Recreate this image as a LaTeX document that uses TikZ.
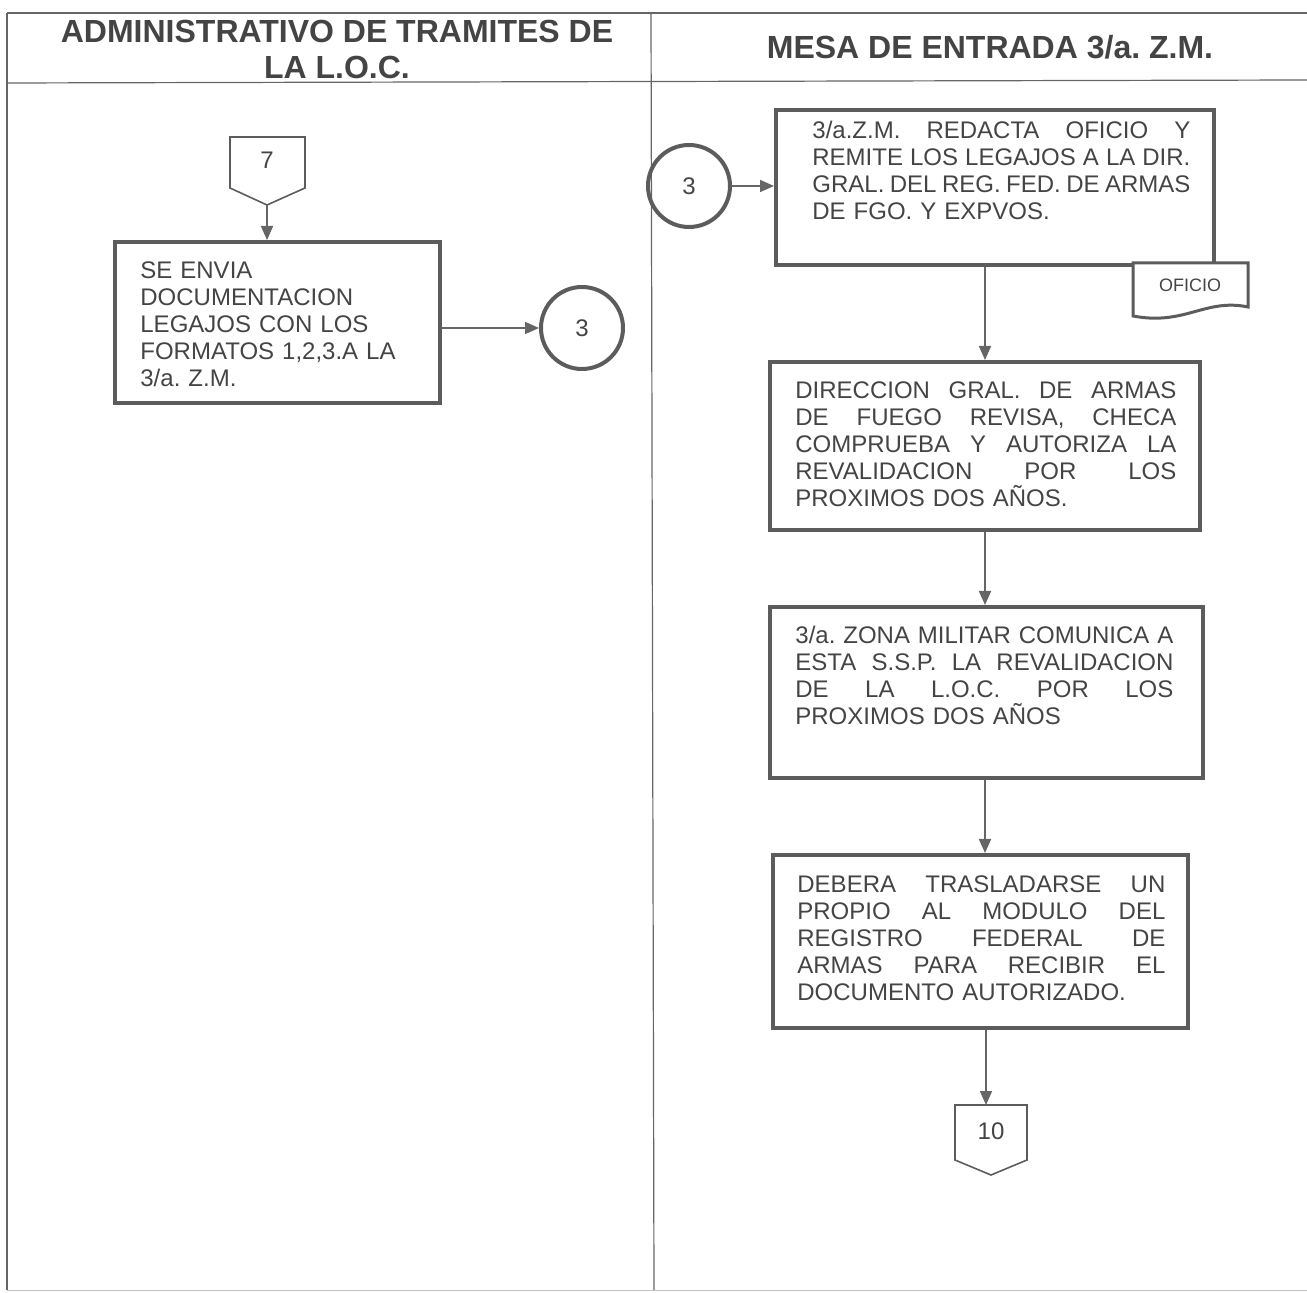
\documentclass[tikz,border=0pt]{standalone}
\usepackage{fontspec}
\setmainfont{Liberation Sans}
\usetikzlibrary{arrows.meta}
\definecolor{ln}{HTML}{666666}
\definecolor{bx}{HTML}{5C5C5C}
\definecolor{tx}{HTML}{444444}
\newcommand{\jline}[2]{\noindent\hbox to #1{#2}\par}
\frenchspacing
\begin{document}
\begin{tikzpicture}[x=0.5pt,y=-0.5pt,
  procbox/.style={draw=bx, line width=2pt, inner sep=0pt},
  conn/.style={draw=ln, line width=0.8pt, -{Triangle[length=7pt,width=6pt]}},
  circ/.style={draw=bx, line width=2pt, circle, minimum size=41pt, inner sep=0pt, text=tx, font=\fontsize{12}{14}\selectfont},
  offpage/.style={draw=bx, line width=0.8pt, fill=white},
  body/.style={anchor=north west, inner sep=0pt, align=left, text=tx, font=\fontsize{12}{13.5}\selectfont},
  head/.style={text=tx, font=\bfseries\fontsize{16}{18}\selectfont, align=center, inner sep=0pt},
  small/.style={text=tx, font=\fontsize{12}{14}\selectfont, inner sep=0pt},
  gridline/.style={draw=ln, line width=0.6pt}]
\useasboundingbox (0,0) rectangle (1307,1293);

% table grid
\draw[gridline] (7,13) -- (1307,13);
\draw[gridline] (7,83) -- (1307,80);
\draw[gridline] (7,13) -- (7,1290);
\draw[gridline] (651,13) -- (654,1290);
\draw[draw=ln!40, line width=0.5pt] (7,1290) -- (1307,1290);

% headers
\node[head] (h1) at (337,49) {ADMINISTRATIVO DE TRAMITES DE\\LA L.O.C.};
\node[head] (h2) at (990,47) {MESA DE ENTRADA 3/a. Z.M.};

% left lane
\draw[offpage] (230,137) -- (305,137) -- (305,188) -- (267,205) -- (230,188) -- cycle;
\coordinate (p7tip) at (267,205);
\node[small] (p7) at (267,160) {7};

\node[procbox, minimum width=162.5pt, minimum height=80.5pt] (b1) at (277.5,322.5) {};
\node[body, text width=140pt] (t1) at (140,261) {SE ENVIA\\DOCUMENTACION\\LEGAJOS CON LOS\\FORMATOS 1,2,3.A LA\\3/a. Z.M.};

\node[circ] (c1) at (582,328) {3};

\draw[conn] (p7tip) -- (p7tip |- b1.north);
\draw[conn] (b1.east |- c1.west) -- (c1.west);

% right lane
\node[circ] (c2) at (689,186) {3};

\node[procbox, minimum width=219pt, minimum height=77.5pt] (b2) at (995,187.5) {};
\node[body, text width=189pt] (t2) at (812,121) {%
\jline{189pt}{3/a.Z.M.\hfill REDACTA\hfill OFICIO\hfill Y}%
\jline{189pt}{REMITE\hfill LOS\hfill LEGAJOS\hfill A\hfill LA\hfill DIR.}%
\jline{189pt}{GRAL.\hfill DEL\hfill REG.\hfill FED.\hfill DE\hfill ARMAS}%
DE FGO. Y EXPVOS.};

\draw[draw=bx, line width=1.5pt, fill=white] (1133,263) -- (1248,263) -- (1248,307)
  .. controls (1205,298) and (1185,326) .. (1133,316) -- cycle;
\node[small, font=\fontsize{9}{11}\selectfont] (doc) at (1190,285) {OFICIO};

\node[procbox, minimum width=215pt, minimum height=84pt] (b3) at (985,446) {};
\node[body, text width=190.5pt] (t3) at (795,381) {%
\jline{190.5pt}{DIRECCION\hfill GRAL.\hfill DE\hfill ARMAS}%
\jline{190.5pt}{DE\hfill FUEGO\hfill REVISA,\hfill CHECA}%
\jline{190.5pt}{COMPRUEBA\hfill Y\hfill AUTORIZA\hfill LA}%
\jline{190.5pt}{REVALIDACION\hfill POR\hfill LOS}%
PROXIMOS DOS AÑOS.};

\node[procbox, minimum width=216.5pt, minimum height=85.5pt] (b4) at (986.5,692.5) {};
\node[body, text width=189pt] (t4) at (795,626) {%
\jline{189pt}{3/a.\hfill ZONA\hfill MILITAR\hfill COMUNICA\hfill A}%
\jline{189pt}{ESTA\hfill S.S.P.\hfill LA\hfill REVALIDACION}%
\jline{189pt}{DE\hfill LA\hfill L.O.C.\hfill POR\hfill LOS}%
PROXIMOS DOS AÑOS};

\node[procbox, minimum width=207.5pt, minimum height=86.5pt] (b5) at (980.5,941.5) {};
\node[body, text width=184pt] (t5) at (797,875) {%
\jline{184pt}{DEBERA\hfill TRASLADARSE\hfill UN}%
\jline{184pt}{PROPIO\hfill AL\hfill MODULO\hfill DEL}%
\jline{184pt}{REGISTRO\hfill FEDERAL\hfill DE}%
\jline{184pt}{ARMAS\hfill PARA\hfill RECIBIR\hfill EL}%
DOCUMENTO AUTORIZADO.};

\draw[offpage] (955,1105) -- (1027,1105) -- (1027,1160) -- (991,1175) -- (955,1160) -- cycle;
\coordinate (p10top) at (986,1105);
\node[small] (p10) at (991,1131) {10};

\draw[conn] (c2.east) -- (c2.east -| b2.west);
\draw[conn] (b3.north |- b2.south) -- (b3.north);
\draw[conn] (b3.south) -- (b3.south |- b4.north);
\draw[conn] (b3.south |- b4.south) -- (b3.south |- b5.north);
\draw[conn] (p10top |- b5.south) -- (p10top);
\end{tikzpicture}
\end{document}
